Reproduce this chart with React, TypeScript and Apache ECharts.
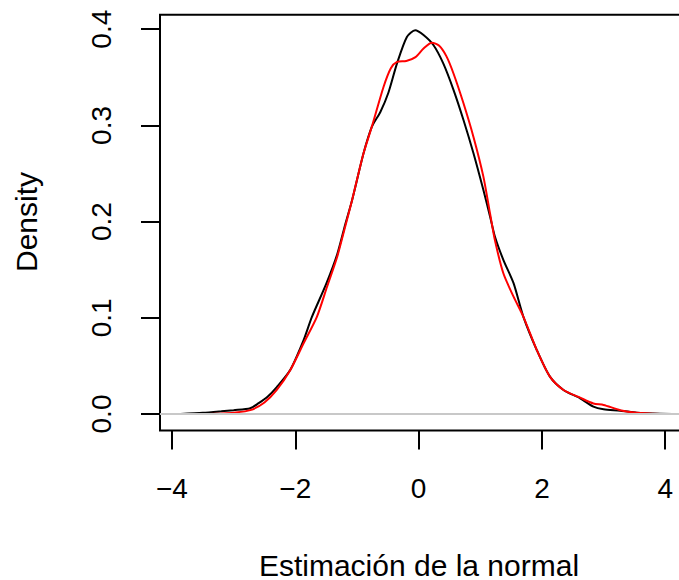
import React, { useEffect, useRef } from "react";
import * as echarts from "echarts";

// Black curve: kernel density of the sample
const blackX = [-3.86, -3.5, -3.2, -3.0, -2.73, -2.6, -2.45, -2.3, -2.08, -1.87, -1.73, -1.5, -1.32, -1.19, -1.08, -0.893, -0.757, -0.62, -0.49, -0.35, -0.19, -0.055, 0.08, 0.24, 0.4, 0.566, 0.728, 0.89, 1.05, 1.16, 1.24, 1.376, 1.54, 1.7, 1.917, 2.13, 2.35, 2.62, 2.835, 3.0, 3.27, 3.54, 3.8, 4.11];
const blackY = [0.0, 0.0012, 0.0028, 0.004, 0.006, 0.011, 0.018, 0.028, 0.046, 0.076, 0.101, 0.135, 0.166, 0.197, 0.222, 0.271, 0.2987, 0.314, 0.334, 0.3645, 0.392, 0.399, 0.394, 0.3836, 0.3645, 0.337, 0.3056, 0.271, 0.233, 0.205, 0.184, 0.16, 0.136, 0.101, 0.0665, 0.0388, 0.025, 0.0163, 0.0076, 0.0049, 0.0035, 0.0014, 0.0004, 0.0];

// Red curve: second density estimate
const redX = [-3.4, -3.2, -3.0, -2.73, -2.5, -2.3, -2.08, -1.865, -1.65, -1.486, -1.32, -1.19, -1.08, -0.893, -0.757, -0.569, -0.45, -0.35, -0.2, -0.05, 0.08, 0.215, 0.33, 0.45, 0.566, 0.728, 0.89, 1.05, 1.16, 1.24, 1.376, 1.54, 1.7, 1.917, 2.13, 2.35, 2.62, 2.835, 3.0, 3.27, 3.54, 3.92];
const redY = [0.0, 0.0005, 0.0013, 0.004, 0.012, 0.025, 0.0457, 0.0735, 0.101, 0.132, 0.1635, 0.195, 0.222, 0.271, 0.299, 0.34, 0.3595, 0.366, 0.367, 0.371, 0.38, 0.386, 0.383, 0.372, 0.354, 0.323, 0.288, 0.247, 0.208, 0.18, 0.146, 0.122, 0.101, 0.0665, 0.0388, 0.025, 0.017, 0.011, 0.0094, 0.004, 0.0014, 0.0];

const xTicks = [-4, -2, 0, 2, 4];
const yTicks = [0, 0.1, 0.2, 0.3, 0.4];
const xTitle = "Estimación de la normal";
const yTitle = "Density";

const FONT = "'Liberation Sans', Arial, Helvetica, sans-serif";

export default function App() {
  const ref = useRef<HTMLDivElement>(null);
  useEffect(() => {
    if (!ref.current) return;
    const chart = echarts.init(ref.current, undefined, { renderer: "svg" });
    const black = blackX.map((x, i) => [x, blackY[i]]);
    const red = redX.map((x, i) => [x, redY[i]]);
    chart.setOption({
      animation: false,
      backgroundColor: "#ffffff",
      grid: {
        show: true,
        left: 160,
        top: 14.7,
        right: 9,
        bottom: 149.5,
        borderColor: "#000",
        borderWidth: 2,
        backgroundColor: "transparent",
      },
      xAxis: {
        type: "value",
        min: -4.194,
        max: 4.418,
        axisLine: { show: false, onZero: false },
        splitLine: { show: false },
        axisTick: {
          show: true,
          customValues: xTicks,
          length: 19,
          inside: false,
          lineStyle: { color: "#000", width: 2 },
        },
        axisLabel: {
          show: true,
          customValues: xTicks,
          margin: 43.5,
          fontSize: 28,
          fontFamily: FONT,
          color: "#000",
          formatter: (v: number) => (v < 0 ? "\u2212" + Math.abs(v) : String(v)),
        },
      },
      yAxis: {
        type: "value",
        min: -0.01715,
        max: 0.4151,
        axisLine: { show: false, onZero: false },
        splitLine: { show: false },
        axisTick: {
          show: true,
          customValues: yTicks,
          length: 19,
          inside: false,
          lineStyle: { color: "#000", width: 2 },
        },
        axisLabel: {
          show: true,
          customValues: yTicks,
          rotate: 90,
          margin: 44.5,
          fontSize: 28,
          fontFamily: FONT,
          color: "#000",
          formatter: (v: number) => v.toFixed(1),
        },
      },
      graphic: [
        {
          type: "text",
          x: 26,
          y: 222,
          rotation: Math.PI / 2,
          style: {
            text: yTitle,
            fontSize: 30,
            fontFamily: FONT,
            fill: "#000",
            align: "center",
            verticalAlign: "middle",
          },
        },
        {
          type: "text",
          x: 419,
          y: 565.5,
          style: {
            text: xTitle,
            fontSize: 30,
            lineHeight: 24,
            fontFamily: FONT,
            fill: "#000",
            align: "center",
            verticalAlign: "middle",
          },
        },
      ],
      series: [
        {
          type: "line",
          data: black,
          showSymbol: false,
          smooth: 0.25,
          z: 2,
          lineStyle: { color: "#000", width: 2 },
          silent: true,
        },
        {
          type: "line",
          data: [],
          z: 3,
          silent: true,
          markLine: {
            silent: true,
            symbol: ["none", "none"],
            label: { show: false },
            lineStyle: { color: "#c8c8c8", width: 2, type: "solid" },
            data: [{ yAxis: 0 }],
          },
        },
        {
          type: "line",
          data: red,
          showSymbol: false,
          smooth: 0.25,
          z: 4,
          lineStyle: { color: "#ff0000", width: 2 },
          silent: true,
        },
      ],
    });
    return () => chart.dispose();
  }, []);
  return (
    <div
      style={{
        position: "absolute",
        left: 0,
        top: 0,
        width: 679,
        height: 580,
        overflow: "hidden",
        background: "#fff",
      }}
    >
      <div ref={ref} style={{ width: 700, height: 580 }} />
    </div>
  );
}
